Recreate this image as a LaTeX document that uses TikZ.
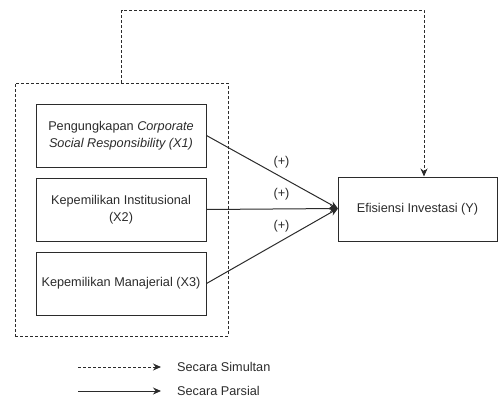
\documentclass[tikz,border=0pt]{standalone}
\usepackage{fontspec}
\setmainfont{Liberation Sans}
\usetikzlibrary{arrows.meta}
\definecolor{ink}{HTML}{2B2B2B}
\begin{document}
\begin{tikzpicture}[x=1pt,y=-1pt,
  every node/.style={text=ink, font=\fontsize{12.7}{17}\selectfont},
  varbox/.style={draw=ink, line width=1pt, align=center, inner sep=2pt,
    minimum width=170pt, minimum height=63pt},
  dash3/.style={draw=ink, line width=1pt, dash pattern=on 3pt off 2pt},
  solidline/.style={draw=ink, line width=1pt},
  tip/.style={-{Stealth[length=8pt,width=7pt]}},
  sign/.style={inner sep=1pt}
]
\useasboundingbox (0,0) rectangle (499,400);
\node[dash3, minimum width=213pt, minimum height=253pt] (outer) at (121.5,209.5) {};
\node[varbox] (x1) at (121,135.5) {Pengungkapan \textit{Corporate}\\\textit{Social Responsibility (X1)}};
\node[varbox] (x2) at (121,209.5) {Kepemilikan Institusional\\(X2)};
\node[varbox] (x3) at (121,283.5) {Kepemilikan Manajerial (X3)};
\node[varbox, minimum width=159pt, minimum height=64pt] (y) at (417.5,209) {Efisiensi Investasi (Y)};
\coordinate (tipY) at (338,208.5);
\coordinate (top) at (424,10);
\draw[solidline, tip] (x1.east) -- (tipY);
\draw[solidline, tip] (x2.east) -- (tipY);
\draw[solidline, tip] (x3.east) -- (tipY);
\draw[dash3, tip] (outer.north) |- (top) -- (top |- y.north);
\node[sign] (s1) at (281.5,162) {(+)};
\node[sign] (s2) at (281.5,194) {(+)};
\node[sign] (s3) at (281.5,226) {(+)};
% legend
\coordinate (l1a) at (78,367);
\coordinate (l1b) at (161,367);
\coordinate (l2a) at (78,391);
\coordinate (l2b) at (161,391);
\draw[dash3, tip] (l1a) -- (l1b);
\draw[solidline, tip] (l2a) -- (l2b);
\node[anchor=west, inner sep=0pt] (t1) at (177,367) {Secara Simultan};
\node[anchor=west, inner sep=0pt] (t2) at (177,391) {Secara Parsial};
\end{tikzpicture}
\end{document}
